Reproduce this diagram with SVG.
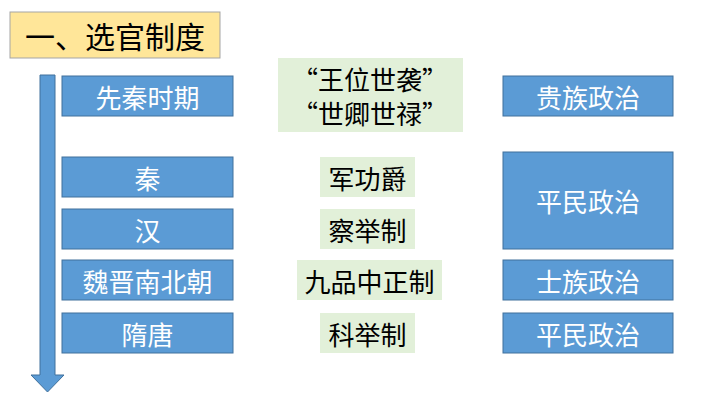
<svg xmlns="http://www.w3.org/2000/svg" width="720" height="405" viewBox="0 0 720 405">
<style>
text{font-family:"Noto Sans CJK SC",sans-serif;font-size:26px;text-anchor:middle;dominant-baseline:central}
.b{fill:#5B9BD5;stroke:#41719C;stroke-width:1}
.bt{fill:#fff}
.g{fill:#E2F0D9}
.gt{fill:#000}
</style>
<rect width="720" height="405" fill="#fff"/>
<g id="title"><rect x="10" y="12" width="210" height="46" fill="#FFE699" stroke="#A5A5A5"/><text x="115" y="35" font-size="30" style="font-size:30px">一、选官制度</text></g>
<g id="connectors"><path d="M40 75 H55 V375 H64 L47.5 392 L31 375 H40 Z" fill="#5B9BD5" stroke="#41719C"/></g>
<g id="l1"><rect class="b" x="62" y="76" width="171" height="40"/><text class="bt" x="147.5" y="96">先秦时期</text></g>
<g id="l2"><rect class="b" x="62" y="157" width="171" height="40"/><text class="bt" x="147.5" y="177">秦</text></g>
<g id="l3"><rect class="b" x="62" y="209" width="171" height="40"/><text class="bt" x="147.5" y="229">汉</text></g>
<g id="l4"><rect class="b" x="62" y="260" width="171" height="40"/><text class="bt" x="147.5" y="280">魏晋南北朝</text></g>
<g id="l5"><rect class="b" x="62" y="313" width="171" height="40"/><text class="bt" x="147.5" y="333">隋唐</text></g>
<g id="m1"><rect class="g" x="278" y="58" width="185" height="74"/><text x="370" y="78">“王位世袭”</text><text x="370" y="112">“世卿世禄”</text></g>
<g id="m2"><rect class="g" x="320" y="157" width="95" height="40"/><text x="367.5" y="177">军功爵</text></g>
<g id="m3"><rect class="g" x="320" y="209" width="95" height="40"/><text x="367.5" y="229">察举制</text></g>
<g id="m4"><rect class="g" x="297" y="260" width="145" height="40"/><text x="369.5" y="280">九品中正制</text></g>
<g id="m5"><rect class="g" x="320" y="313" width="95" height="40"/><text x="367.5" y="333">科举制</text></g>
<g id="r1"><rect class="b" x="503" y="76" width="170" height="40"/><text class="bt" x="588" y="96">贵族政治</text></g>
<g id="r2"><rect class="b" x="503" y="152" width="170" height="97"/><text class="bt" x="588" y="200">平民政治</text></g>
<g id="r3"><rect class="b" x="503" y="260" width="170" height="40"/><text class="bt" x="588" y="280">士族政治</text></g>
<g id="r4"><rect class="b" x="503" y="313" width="170" height="40"/><text class="bt" x="588" y="333">平民政治</text></g>
</svg>
